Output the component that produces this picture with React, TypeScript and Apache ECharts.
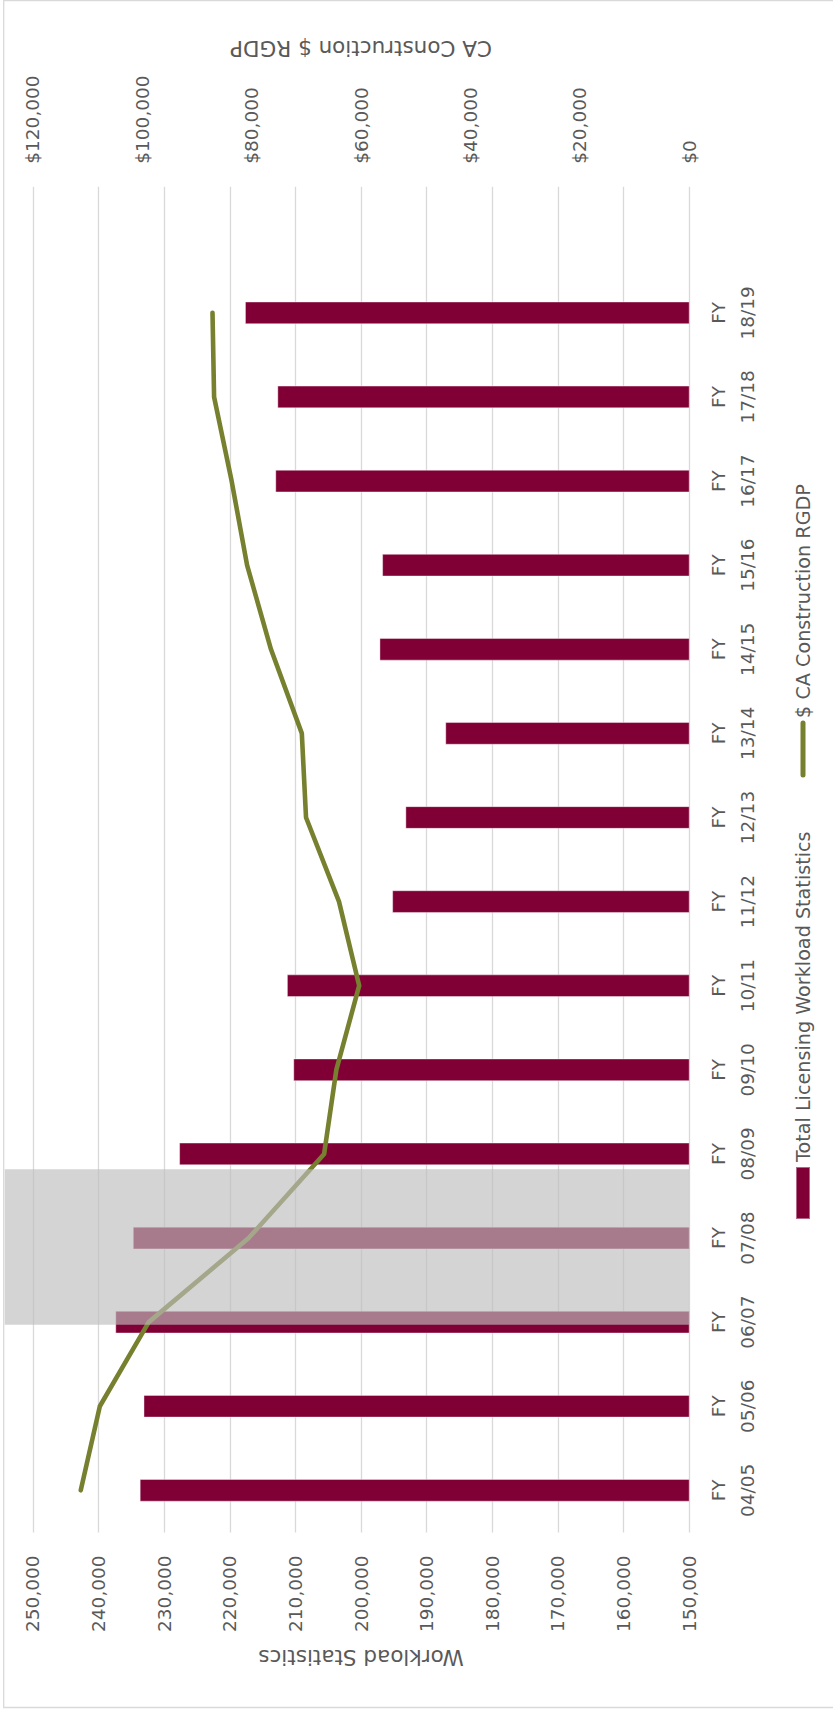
import React, { useEffect, useRef } from "react";
import * as echarts from "echarts";

// ---- data ----
const categories = [
  "FY 04/05", "FY 05/06", "FY 06/07", "FY 07/08", "FY 08/09",
  "FY 09/10", "FY 10/11", "FY 11/12", "FY 12/13", "FY 13/14",
  "FY 14/15", "FY 15/16", "FY 16/17", "FY 17/18", "FY 18/19", "",
];
const workloadValues = [
  233730, 233150, 237450, 234780, 227720,
  210330, 211300, 195260, 193250, 187170,
  197200, 196790, 213070, 212760, 217690,
];
const rgdpValues = [
  111250, 107760, 98820, 80550, 66750,
  64520, 60340, 64030, 70060, 70830,
  76470, 80840, 83660, 86870, 87160,
];
const workloadMin = 150000;
const workloadMax = 250000;
const workloadStep = 10000;
const rgdpMin = 0;
const rgdpMax = 120000;
const rgdpStep = 20000;

const barName = "Total Licensing Workload Statistics";
const lineName = "$ CA Construction RGDP";
const leftAxisTitle = "Workload Statistics";
const rightAxisTitle = "CA Construction $ RGDP";

const FONT = "DejaVu Sans";
const TEXT = "#595959";
const LINE_COLOR = "#77802F";
const FRAME_W = 1711;
const FRAME_H = 833;

const fmt = (v: number) => v.toLocaleString("en-US");

export default function App() {
  const ref = useRef<HTMLDivElement>(null);

  useEffect(() => {
    if (!ref.current) return;
    const chart = echarts.init(ref.current, null, {
      renderer: "svg",
      width: FRAME_W,
      height: FRAME_H,
    });
    chart.setOption({
      animation: false,
      backgroundColor: "#ffffff",
      textStyle: { fontFamily: FONT },
      grid: {
        left: 178.6,
        right: 186.7,
        top: 32.9,
        bottom: 143.8,
        containLabel: false,
        outerBoundsMode: "none",
      },
      legend: {
        left: 491,
        top: 793,
        padding: 0,
        itemWidth: 52,
        itemHeight: 14,
        itemGap: 54,
        textStyle: {
          fontFamily: FONT,
          fontSize: 19.2,
          color: TEXT,
          lineHeight: 20,
        },
        data: [
          { name: barName, icon: "rect" },
          {
            name: lineName,
            itemStyle: { opacity: 0 },
            lineStyle: { color: LINE_COLOR, width: 5, cap: "round" },
          },
        ],
      },
      xAxis: {
        type: "category",
        data: categories,
        axisLine: { show: false },
        axisTick: { show: false },
        axisLabel: {
          interval: 0,
          margin: 15,
          fontFamily: FONT,
          fontSize: 18.5,
          lineHeight: 29,
          color: TEXT,
          formatter: (v: string) => v.replace(" ", "\n"),
        },
      },
      yAxis: [
        {
          type: "value",
          min: workloadMin,
          max: workloadMax,
          interval: workloadStep,
          position: "left",
          name: leftAxisTitle,
          nameLocation: "middle",
          nameGap: 114,
          nameTextStyle: { fontFamily: FONT, fontSize: 21.5, color: TEXT },
          axisLine: { show: false },
          axisTick: { show: false },
          axisLabel: {
            margin: 23,
            fontFamily: FONT,
            fontSize: 18.5,
            color: TEXT,
            formatter: (v: number) => fmt(v),
          },
          splitLine: { show: true, lineStyle: { color: "#D9D9D9", width: 1.3 } },
        },
        {
          type: "value",
          min: rgdpMin,
          max: rgdpMax,
          interval: rgdpStep,
          position: "right",
          name: rightAxisTitle,
          nameLocation: "middle",
          nameGap: 127,
          nameTextStyle: { fontFamily: FONT, fontSize: 21.5, color: TEXT },
          axisLine: { show: false },
          axisTick: { show: false },
          axisLabel: {
            margin: 23,
            fontFamily: FONT,
            fontSize: 18.5,
            color: TEXT,
            formatter: (v: number) => "$" + fmt(v),
          },
          splitLine: { show: false },
        },
      ],
      series: [
        {
          name: barName,
          type: "bar",
          yAxisIndex: 0,
          data: workloadValues,
          barWidth: 22.7,
          itemStyle: {
            color: "#800035",
            borderColor: "rgba(255,255,255,0.4)",
            borderWidth: 1,
          },
        },
        {
          name: lineName,
          type: "line",
          yAxisIndex: 1,
          data: rgdpValues,
          symbol: "none",
          showSymbol: false,
          itemStyle: { color: LINE_COLOR },
          lineStyle: { color: LINE_COLOR, width: 4.6, cap: "round", join: "round" },
          z: 3,
        },
      ],
      graphic: [
        {
          type: "rect",
          z: 100,
          silent: true,
          shape: { x: 386.2, y: 4.7, width: 155.5, height: 684.5 },
          style: { fill: "rgba(188,188,188,0.646)" },
        },
        {
          type: "rect",
          z: 101,
          silent: true,
          shape: { x: 3.5, y: 3.7, width: 1707, height: 850 },
          style: { fill: "none", stroke: "#D9D9D9", lineWidth: 1.3 },
        },
      ],
    });
    return () => chart.dispose();
  }, []);

  return (
    <div
      style={{
        position: "fixed",
        left: 0,
        top: 0,
        width: 833,
        height: 1711,
        overflow: "hidden",
        background: "#ffffff",
      }}
    >
      <div
        ref={ref}
        style={{
          position: "absolute",
          left: 0,
          top: 0,
          width: FRAME_W,
          height: FRAME_H,
          transformOrigin: "0 0",
          transform: `translateY(${FRAME_W}px) rotate(-90deg)`,
        }}
      />
    </div>
  );
}
